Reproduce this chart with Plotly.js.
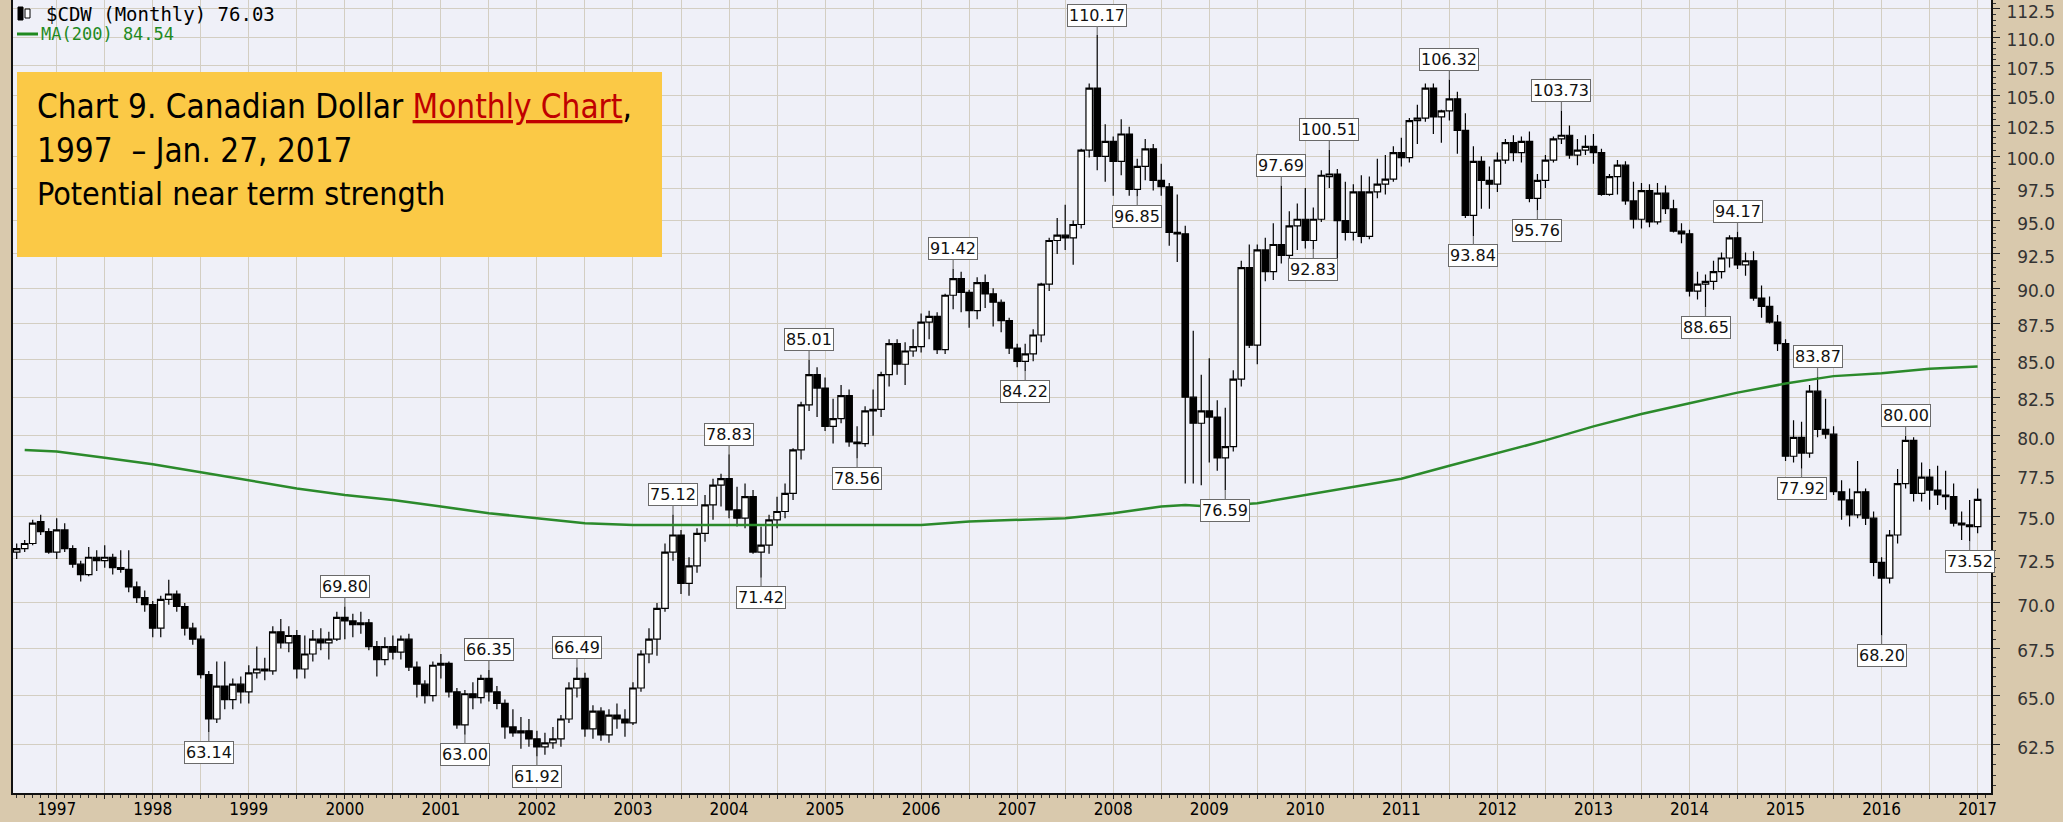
<!DOCTYPE html>
<html><head><meta charset="utf-8">
<script src="https://cdn.plot.ly/plotly-3.0.1.min.js"></script>
<style>html,body{margin:0;padding:0;background:#d9c9ad;overflow:hidden}#chart{width:2063px;height:822px}</style>
</head><body><div id="chart"></div>
<script>
// ---------- DATA ----------
const months = [
"1996-08","1996-09","1996-10","1996-11","1996-12",
"1997-01","1997-02","1997-03","1997-04","1997-05","1997-06","1997-07","1997-08","1997-09","1997-10","1997-11","1997-12",
"1998-01","1998-02","1998-03","1998-04","1998-05","1998-06","1998-07","1998-08","1998-09","1998-10","1998-11","1998-12",
"1999-01","1999-02","1999-03","1999-04","1999-05","1999-06","1999-07","1999-08","1999-09","1999-10","1999-11","1999-12",
"2000-01","2000-02","2000-03","2000-04","2000-05","2000-06","2000-07","2000-08","2000-09","2000-10","2000-11","2000-12",
"2001-01","2001-02","2001-03","2001-04","2001-05","2001-06","2001-07","2001-08","2001-09","2001-10","2001-11","2001-12",
"2002-01","2002-02","2002-03","2002-04","2002-05","2002-06","2002-07","2002-08","2002-09","2002-10","2002-11","2002-12",
"2003-01","2003-02","2003-03","2003-04","2003-05","2003-06","2003-07","2003-08","2003-09","2003-10","2003-11","2003-12",
"2004-01","2004-02","2004-03","2004-04","2004-05","2004-06","2004-07","2004-08","2004-09","2004-10","2004-11","2004-12",
"2005-01","2005-02","2005-03","2005-04","2005-05","2005-06","2005-07","2005-08","2005-09","2005-10","2005-11","2005-12",
"2006-01","2006-02","2006-03","2006-04","2006-05","2006-06","2006-07","2006-08","2006-09","2006-10","2006-11","2006-12",
"2007-01","2007-02","2007-03","2007-04","2007-05","2007-06","2007-07","2007-08","2007-09","2007-10","2007-11","2007-12",
"2008-01","2008-02","2008-03","2008-04","2008-05","2008-06","2008-07","2008-08","2008-09","2008-10","2008-11","2008-12",
"2009-01","2009-02","2009-03","2009-04","2009-05","2009-06","2009-07","2009-08","2009-09","2009-10","2009-11","2009-12",
"2010-01","2010-02","2010-03","2010-04","2010-05","2010-06","2010-07","2010-08","2010-09","2010-10","2010-11","2010-12",
"2011-01","2011-02","2011-03","2011-04","2011-05","2011-06","2011-07","2011-08","2011-09","2011-10","2011-11","2011-12",
"2012-01","2012-02","2012-03","2012-04","2012-05","2012-06","2012-07","2012-08","2012-09","2012-10","2012-11","2012-12",
"2013-01","2013-02","2013-03","2013-04","2013-05","2013-06","2013-07","2013-08","2013-09","2013-10","2013-11","2013-12",
"2014-01","2014-02","2014-03","2014-04","2014-05","2014-06","2014-07","2014-08","2014-09","2014-10","2014-11","2014-12",
"2015-01","2015-02","2015-03","2015-04","2015-05","2015-06","2015-07","2015-08","2015-09","2015-10","2015-11","2015-12",
"2016-01","2016-02","2016-03","2016-04","2016-05","2016-06","2016-07","2016-08","2016-09","2016-10","2016-11","2016-12",
"2017-01"];

const openP = [
72.9,73.1,73.4,74.7,74.1,
72.9,74.2,73.1,72.2,71.6,72.6,72.4,72.6,72.0,71.9,70.9,70.3,
69.9,68.6,70.2,70.5,69.8,68.6,68.0,66.1,63.8,65.5,64.8,65.6,
65.2,66.2,66.4,66.3,68.4,67.8,68.2,66.4,67.2,68.0,67.8,68.0,
69.2,69.0,68.8,68.9,67.6,66.9,67.6,67.3,68.0,66.5,65.6,65.0,
66.6,66.7,65.2,63.5,65.1,64.9,65.9,65.2,64.6,63.4,63.1,63.2,
62.8,62.4,62.6,62.8,63.8,65.4,65.9,63.3,64.2,63.0,64.0,63.8,
63.6,65.4,67.2,68.0,69.7,72.9,73.9,71.1,72.1,74.0,75.7,76.9,
77.3,75.4,74.9,76.2,72.9,73.3,74.8,75.3,76.4,79.1,82.0,84.0,
83.1,80.6,81.1,82.6,79.6,79.5,81.6,81.7,84.0,86.1,84.7,85.6,
85.9,87.6,88.0,85.7,89.5,90.7,89.7,88.4,90.4,89.6,89.0,87.7,
85.8,84.9,85.4,86.7,90.3,93.5,93.9,93.7,94.7,100.5,105.6,100.0,
101.2,99.6,101.8,97.4,99.2,100.6,98.1,97.6,94.1,94.0,82.5,80.8,
81.6,81.2,78.6,79.3,83.7,91.5,86.0,92.8,91.2,93.2,92.4,94.6,
95.1,93.5,95.1,98.4,98.6,95.0,94.1,97.2,93.8,97.2,97.8,98.2,
100.3,99.9,102.9,103.1,105.6,103.2,103.7,104.7,102.1,95.4,99.6,98.1,
97.8,99.7,101.1,100.3,101.2,96.7,98.1,99.7,101.4,101.7,100.1,100.5,
100.8,100.3,97.0,98.4,99.3,96.5,95.1,97.3,94.9,97.1,95.9,94.2,
94.0,89.8,90.3,90.5,91.2,92.2,93.7,91.7,92.0,89.3,88.7,87.6,
86.1,78.7,79.9,78.9,82.9,80.4,80.1,76.5,76.0,75.1,76.5,74.9,
72.3,71.4,73.9,77.0,79.7,76.4,77.4,76.6,76.3,76.2,74.6,74.5,
74.4];

const highP = [
73.4,73.6,74.8,75.1,74.3,
74.9,74.6,73.3,72.4,73.2,73.0,73.3,72.8,73.0,73.0,71.2,70.7,
70.1,70.4,71.3,70.7,70.0,68.9,68.2,66.3,66.8,66.8,65.9,66.0,
66.6,67.6,67.0,68.7,69.1,68.7,68.5,68.2,68.5,68.6,68.4,69.5,
69.80,69.4,69.5,69.1,67.9,68.1,68.2,68.2,68.3,66.8,65.8,66.8,
67.2,66.8,65.4,65.3,65.7,66.1,66.35,65.5,64.8,64.3,63.9,63.8,
63.2,63.1,63.4,64.0,65.7,66.49,66.2,64.5,64.4,64.3,64.6,64.3,
65.7,67.4,68.6,70.0,73.4,75.12,74.2,72.6,74.3,76.3,77.3,77.6,
78.83,76.8,77.0,76.6,74.4,75.1,76.2,77.0,79.2,82.2,85.01,84.5,
83.8,82.4,83.3,83.0,80.6,81.9,83.0,84.2,86.4,86.4,86.2,87.1,
88.2,88.4,88.3,89.6,91.42,91.2,89.9,90.8,91.0,90.0,89.2,87.9,
86.1,86.1,87.1,90.4,93.7,95.2,96.2,95.0,100.6,106.0,110.17,102.6,
101.6,103.0,102.4,99.8,101.4,101.0,99.4,97.9,97.0,94.6,87.0,84.0,
85.1,82.3,81.8,84.3,92.0,93.2,93.2,93.7,94.8,97.69,95.7,96.3,
97.5,96.0,98.9,100.51,99.0,98.0,97.8,98.5,98.4,99.8,100.1,100.8,
101.5,103.1,104.2,106.0,106.0,103.8,106.32,105.3,103.5,100.8,100.0,99.2,
100.3,101.4,101.7,101.6,102.0,98.6,100.1,101.6,103.73,102.5,101.4,101.7,
101.8,100.6,98.6,99.7,99.6,98.0,97.9,97.8,97.9,97.7,96.6,94.8,
94.3,91.2,91.0,92.0,92.6,93.9,94.17,92.6,92.7,90.2,89.4,88.1,
86.4,81.0,80.9,83.3,83.87,82.4,80.6,77.2,76.7,78.4,76.7,75.3,
72.6,74.2,77.9,80.00,79.9,78.3,77.9,78.1,77.8,77.0,75.3,76.0,
76.7];

const lowP = [
72.5,72.9,73.3,73.9,72.8,
72.5,72.9,72.0,71.2,71.5,71.8,72.0,71.6,71.7,70.6,70.0,69.5,
68.1,68.1,69.9,69.5,68.2,67.7,65.9,63.14,63.6,64.3,64.3,64.6,
64.6,65.9,65.8,66.1,67.5,67.3,65.9,65.9,66.8,67.4,66.9,67.9,
68.0,68.1,68.3,67.4,66.0,66.6,66.9,66.9,66.3,64.9,64.6,64.7,
65.9,64.9,63.3,63.00,64.3,64.6,64.7,64.3,62.8,62.9,62.3,62.4,
61.92,62.0,62.3,62.4,63.6,64.9,62.9,62.8,62.7,62.6,63.3,62.9,
63.5,65.2,66.7,67.1,69.5,72.4,70.5,70.4,71.7,73.5,74.8,75.6,
74.9,74.4,74.3,72.8,71.42,72.8,74.3,74.9,76.0,78.5,81.6,81.2,
80.3,79.5,80.8,79.3,78.56,79.3,80.0,81.2,83.2,84.0,83.3,85.2,
85.5,86.4,85.4,85.4,88.5,88.3,87.2,87.8,88.6,87.3,86.9,85.4,
84.5,84.22,84.9,86.2,89.8,92.5,92.8,91.7,94.4,99.9,98.9,98.0,
96.9,98.5,96.9,96.85,98.1,97.3,96.9,93.1,91.9,77.0,77.0,76.9,
78.3,77.8,76.59,79.0,83.2,85.8,84.7,90.5,90.6,91.8,91.5,92.8,
92.9,92.83,94.9,97.5,91.6,93.5,93.5,93.3,93.6,96.7,97.0,98.0,
99.2,99.5,101.0,102.8,101.8,101.1,102.9,100.2,95.2,93.84,95.9,95.9,
97.2,99.4,99.6,99.5,96.4,95.76,97.5,99.5,101.0,99.8,99.3,100.1,
99.4,96.9,96.9,97.0,96.2,94.4,94.4,94.5,94.7,95.5,94.1,93.3,
89.4,89.2,88.65,89.9,90.7,91.5,91.4,90.9,89.1,87.9,87.5,85.6,
78.4,78.3,77.92,78.6,79.9,79.8,76.3,74.8,74.4,74.9,74.5,71.5,
68.20,71.1,73.4,76.7,75.9,75.9,75.4,75.7,75.4,74.4,73.6,73.52,
74.0];

const closeP = [
73.1,73.4,74.6,74.1,72.9,
74.2,73.1,72.2,71.6,72.6,72.4,72.6,72.0,71.9,70.9,70.3,69.9,
68.6,70.2,70.5,69.8,68.6,68.0,66.1,63.8,65.5,64.8,65.6,65.2,
66.2,66.4,66.3,68.4,67.8,68.2,66.4,67.2,68.0,67.8,68.0,69.2,
69.0,68.8,68.9,67.6,66.9,67.6,67.3,68.0,66.5,65.6,65.0,66.6,
66.7,65.2,63.5,65.1,64.9,65.9,65.2,64.6,63.4,63.1,63.2,62.8,
62.4,62.6,62.8,63.8,65.4,65.9,63.3,64.2,63.0,64.0,63.8,63.6,
65.4,67.2,68.0,69.7,72.9,73.9,71.1,72.1,74.0,75.7,76.9,77.3,
75.4,74.9,76.2,72.9,73.3,74.8,75.3,76.4,79.1,82.0,84.0,83.1,
80.6,81.1,82.6,79.6,79.5,81.6,81.7,84.0,86.1,84.7,85.6,85.9,
87.6,88.0,85.7,89.5,90.7,89.7,88.4,90.4,89.6,89.0,87.7,85.8,
84.9,85.4,86.7,90.3,93.5,93.9,93.7,94.7,100.5,105.6,100.0,101.2,
99.6,101.8,97.4,99.2,100.6,98.1,97.6,94.1,94.0,82.5,80.8,81.6,
81.2,78.6,79.3,83.7,91.5,86.0,92.8,91.2,93.2,92.4,94.6,95.1,
93.5,95.1,98.5,98.6,95.0,94.1,97.2,93.8,97.2,97.8,98.2,100.3,
99.9,102.9,103.1,105.6,103.2,103.7,104.7,102.1,95.4,99.6,98.1,97.8,
99.7,101.1,100.3,101.2,96.7,98.1,99.7,101.4,101.7,100.1,100.5,100.8,
100.3,97.0,98.4,99.3,96.5,95.1,97.3,94.9,97.1,95.9,94.2,94.0,
89.8,90.3,90.5,91.2,92.2,93.7,91.7,92.0,89.3,88.7,87.6,86.1,
78.7,79.9,78.9,82.9,80.4,80.1,76.5,76.0,75.1,76.5,74.9,72.3,
71.4,73.9,77.0,79.7,76.4,77.4,76.6,76.3,76.2,74.6,74.5,74.4,
76.03];

// 200-month moving average
const maMonths = ["1996-09","1997-01","1997-07","1998-01","1998-07","1999-01","1999-07","2000-01","2000-07","2001-01","2001-07","2002-01","2002-07","2003-01","2003-07","2004-01","2005-01","2006-01","2006-07","2007-01","2007-07","2008-01","2008-07","2008-10","2009-01","2009-07","2010-01","2010-07","2011-01","2011-07","2012-01","2012-07","2013-01","2013-07","2014-01","2014-07","2015-01","2015-07","2016-01","2016-07","2017-01"];
const maValues = [79.1,79.0,78.6,78.2,77.7,77.2,76.7,76.3,76.0,75.6,75.2,74.9,74.6,74.5,74.5,74.5,74.5,74.5,74.7,74.8,74.9,75.2,75.6,75.7,75.6,75.8,76.3,76.8,77.3,78.1,78.9,79.7,80.6,81.4,82.1,82.8,83.4,83.9,84.1,84.4,84.54];

// Swing-point callouts: month and whether the label sits on the high or the low
const calloutMonths = ["1998-08","2000-01","2001-04","2001-07","2002-01","2002-06","2003-06","2004-01","2004-05","2004-11","2005-05","2006-05","2007-02","2007-11","2008-04","2009-03","2009-10","2010-02","2010-04","2011-07","2011-10","2012-06","2012-09","2014-03","2014-07","2015-03","2015-05","2016-01","2016-04","2016-12"];
const calloutKinds  = ["low","high","low","high","low","high","high","high","low","high","low","high","low","high","low","low","high","low","high","high","low","low","high","low","high","low","high","low","high","low"];

const yearLabels = ["1997","1998","1999","2000","2001","2002","2003","2004","2005","2006","2007","2008","2009","2010","2011","2012","2013","2014","2015","2016","2017"];
const priceTicks = [62.5,65.0,67.5,70.0,72.5,75.0,77.5,80.0,82.5,85.0,87.5,90.0,92.5,95.0,97.5,100.0,102.5,105.0,107.5,110.0,112.5];
const priceTickLabels = ["62.5","65.0","67.5","70.0","72.5","75.0","77.5","80.0","82.5","85.0","87.5","90.0","92.5","95.0","97.5","100.0","102.5","105.0","107.5","110.0","112.5"];

// ---------- BUILD ----------
function monthIndex(s){const p=s.split('-').map(Number);return (p[0]-1997)*12+(p[1]-1);}
const xs = months.map(monthIndex);

// major ticks every 6 months (grid), labels on January
const gridVals=[], gridText=[];
yearLabels.forEach(function(y){const j=monthIndex(y+"-01");gridVals.push(j);gridText.push(y);
  if(j+6<=241){gridVals.push(j+6);gridText.push("");}});
gridVals.unshift(-6);gridText.unshift("");

const minorY=[];for(let v=60.5;v<=113.01;v+=0.5){minorY.push(Math.round(v*10)/10);}
// right-align the price labels by padding the short ones with a figure space
const padTicks = priceTickLabels.map(function(t){return t.length<5 ? '\u2007'+t : t;});

const L=13,R=1991,T=0,B=793;
function px(x){return (x-L)/(R-L);}
function py(y){return (B-y)/(B-T);}

const candle = {
  type:'candlestick', x:xs, open:openP, high:highP, low:lowP, close:closeP,
  increasing:{line:{color:'#000',width:1.2},fillcolor:'#ffffff'},
  decreasing:{line:{color:'#000',width:1.2},fillcolor:'#000000'},
  whiskerwidth:0, hoverinfo:'skip', showlegend:false
};
const ma = {
  type:'scatter', mode:'lines', x:maMonths.map(monthIndex), y:maValues,
  line:{color:'#2b8a2b',width:2.5}, hoverinfo:'skip', showlegend:false
};

const annotations = [];
calloutMonths.forEach(function(m,k){
  const i = months.indexOf(m);
  const isHigh = calloutKinds[k]==='high';
  const v = isHigh ? highP[i] : lowP[i];
  annotations.push({
    x: monthIndex(m), y: Math.log10(v), xref:'x', yref:'y',
    text: v.toFixed(2), showarrow:true, arrowhead:0, arrowwidth:1.2, arrowcolor:'#777',
    ax:0, ay: isHigh ? -20 : 20, standoff:0,
    bgcolor:'#ffffff', bordercolor:'#6a6a6a', borderwidth:1, borderpad:1,
    font:{family:'DejaVu Sans, Verdana, sans-serif',size:16,color:'#111'}
  });
});

const boxFont = 'Liberation Sans Narrow, DejaVu Sans Condensed, Liberation Sans, sans-serif';
annotations.push(
  {xref:'paper',yref:'paper',x:px(35),y:py(106),xanchor:'left',yanchor:'middle',showarrow:false,
   text:'Chart 9. Canadian Dollar <span style="color:#c00000;text-decoration:underline">Monthly Chart</span>,',
   font:{family:boxFont,size:33,color:'#000'}},
  {xref:'paper',yref:'paper',x:px(35),y:py(150),xanchor:'left',yanchor:'middle',showarrow:false,
   text:'1997  \u2013 Jan. 27, 2017', font:{family:boxFont,size:33,color:'#000'}},
  {xref:'paper',yref:'paper',x:px(35),y:py(194),xanchor:'left',yanchor:'middle',showarrow:false,
   text:'Potential near term strength', font:{family:boxFont,size:32,color:'#000'}},
  {xref:'paper',yref:'paper',x:px(44),y:py(14),xanchor:'left',yanchor:'middle',showarrow:false,
   text:'$CDW (Monthly) 76.03', font:{family:'DejaVu Sans Mono, DejaVu Sans',size:19,color:'#000'}},
  {xref:'paper',yref:'paper',x:px(39),y:py(34),xanchor:'left',yanchor:'middle',showarrow:false,
   text:'MA(200) 84.54', font:{family:'DejaVu Sans Mono, DejaVu Sans',size:17,color:'#1f8a1f'}}
);

const shapes = [
  {type:'rect',xref:'paper',yref:'paper',x0:px(17),x1:px(662),y0:py(257),y1:py(72),
   fillcolor:'#fbc946',line:{width:0},layer:'above'},
  {type:'line',xref:'paper',yref:'paper',x0:px(17),x1:px(38),y0:py(34),y1:py(34),
   line:{color:'#1f8a1f',width:3}},
  {type:'rect',xref:'paper',yref:'paper',x0:px(18),x1:px(23),y0:py(20),y1:py(7),
   fillcolor:'#000',line:{color:'#000',width:1}},
  {type:'rect',xref:'paper',yref:'paper',x0:px(25),x1:px(30),y0:py(18),y1:py(9),
   fillcolor:'#fff',line:{color:'#000',width:1}}
];

const layout = {
  width:2063, height:822,
  margin:{l:L,r:2063-R,t:T,b:822-B,pad:0},
  paper_bgcolor:'#d9c9ad', plot_bgcolor:'#eff0f8',
  showlegend:false, boxgap:0.1, boxgroupgap:0.1,
  xaxis:{
    range:[-5.46,241.67], tickmode:'array', tickvals:gridVals, ticktext:gridText,
    showgrid:true, gridcolor:'#d3cec2', gridwidth:1, zeroline:false,
    showline:true, linecolor:'#111', linewidth:2, mirror:false,
    ticks:'outside', ticklen:4, tickcolor:'#222', tickwidth:1,
    minor:{tick0:0,dtick:1,ticks:'outside',ticklen:3,tickcolor:'#333',showgrid:false},
    tickfont:{family:'DejaVu Sans Condensed, Liberation Sans Narrow, Liberation Sans',size:17,color:'#000'},
    ticklabelstandoff:-4, ticklabeloverflow:'allow',
    rangeslider:{visible:false}, fixedrange:true
  },
  yaxis:{
    type:'log', side:'right', range:[Math.log10(60.139),Math.log10(113.30)],
    tickmode:'array', tickvals:priceTicks, ticktext:padTicks,
    showgrid:true, gridcolor:'#d3cec2', gridwidth:1, zeroline:false,
    showline:true, linecolor:'#111', linewidth:2, mirror:true,
    ticks:'outside', ticklen:7, tickcolor:'#222',
    minor:{tickmode:'array',tickvals:minorY,ticks:'outside',ticklen:3,tickcolor:'#333',showgrid:false},
    tickfont:{family:'DejaVu Sans, Verdana, sans-serif',size:17,color:'#333'},
    ticklabelstandoff:3, ticklabelshift:3, ticklabeloverflow:'allow',
    fixedrange:true
  },
  annotations:annotations, shapes:shapes
};

Plotly.newPlot('chart',[ma,candle],layout,{staticPlot:true,displayModeBar:false});
</script>
</body></html>
